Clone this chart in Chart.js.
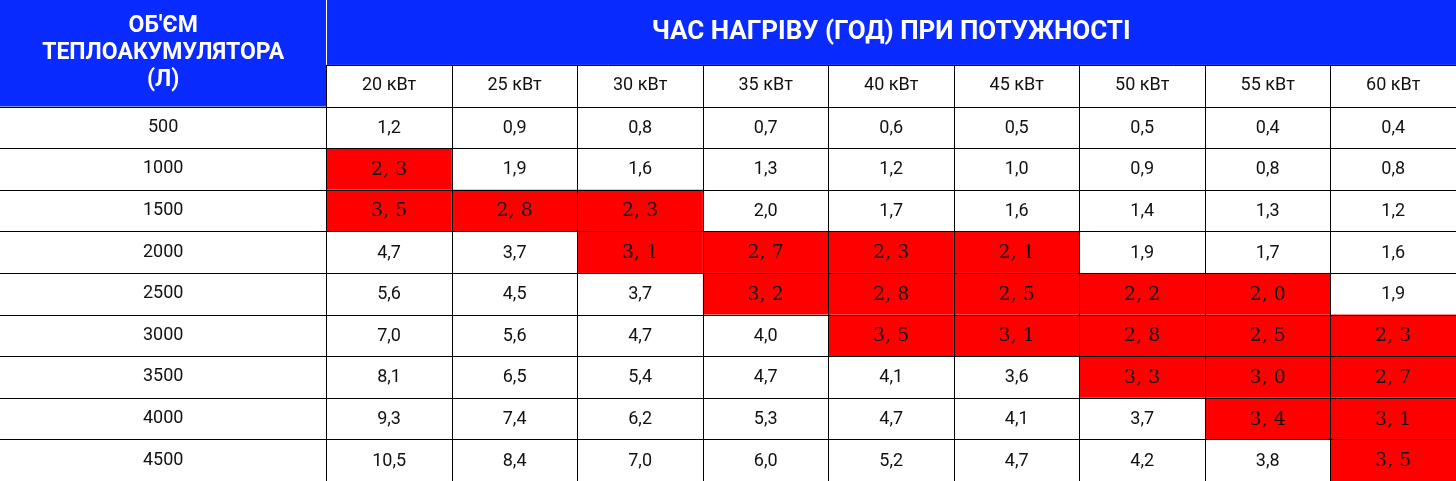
<!DOCTYPE html>
<html><head><meta charset="utf-8">
<script src="https://cdn.jsdelivr.net/npm/chart.js@4.4.1/dist/chart.umd.min.js"></script>
<style>html,body{margin:0;padding:0;background:#fff}canvas{display:block}</style>
</head><body>
<canvas id="c" width="1456" height="481"></canvas>
<script>
// дані таблиці
const powers = ['20 кВт', '25 кВт', '30 кВт', '35 кВт', '40 кВт', '45 кВт', '50 кВт', '55 кВт', '60 кВт']
const volumes = ['500', '1000', '1500', '2000', '2500', '3000', '3500', '4000', '4500']
const hours = [
  [1.2, 0.9, 0.8, 0.7, 0.6, 0.5, 0.5, 0.4, 0.4],
  [2.3, 1.9, 1.6, 1.3, 1.2, 1.0, 0.9, 0.8, 0.8],
  [3.5, 2.8, 2.3, 2.0, 1.7, 1.6, 1.4, 1.3, 1.2],
  [4.7, 3.7, 3.1, 2.7, 2.3, 2.1, 1.9, 1.7, 1.6],
  [5.6, 4.5, 3.7, 3.2, 2.8, 2.5, 2.2, 2.0, 1.9],
  [7.0, 5.6, 4.7, 4.0, 3.5, 3.1, 2.8, 2.5, 2.3],
  [8.1, 6.5, 5.4, 4.7, 4.1, 3.6, 3.3, 3.0, 2.7],
  [9.3, 7.4, 6.2, 5.3, 4.7, 4.1, 3.7, 3.4, 3.1],
  [10.5, 8.4, 7.0, 6.0, 5.2, 4.7, 4.2, 3.8, 3.5],
]
// червоні клітинки: [рядок, стовпець]
const highlighted = [
  [1, 0], [2, 0], [2, 1], [2, 2], [3, 2], [3, 3], [3, 4], [3, 5],
  [4, 3], [4, 4], [4, 5], [4, 6], [4, 7], [5, 4], [5, 5], [5, 6], [5, 7], [5, 8],
  [6, 6], [6, 7], [6, 8], [7, 7], [7, 8], [8, 8],
]
const titleTop = 'ЧАС НАГРІВУ (ГОД) ПРИ ПОТУЖНОСТІ'
const titleLeft = ['ОБ\'ЄМ', 'ТЕПЛОАКУМУЛЯТОРА', '(Л)']

const BLUE = '#0a2bff', RED = '#ff0000'
const LEFT_W = 2.6   // ширина першого стовпця в одиницях шкали
const TOP_H = 1.56   // висота синього заголовка в одиницях рядка
const isHi = (r, c) => highlighted.some(h => h[0] === r && h[1] === c)
const fmt = v => v.toFixed(1).replace('.', ',')

const tablePlugin = {
  id: 'table',
  afterDraw(chart) {
    const { ctx, scales: { x, y } } = chart
    const X = v => x.getPixelForValue(v), Y = v => y.getPixelForValue(v)
    const colL = c => X(LEFT_W + c), colR = c => X(LEFT_W + c + 1)
    const rowT = r => Y(TOP_H + 1 + r), rowB = r => Y(TOP_H + 2 + r)
    ctx.save()
    // сині заголовки
    ctx.fillStyle = BLUE
    ctx.fillRect(X(0), Y(0), X(LEFT_W) - X(0), Y(TOP_H + 1) - Y(0))
    ctx.fillRect(X(LEFT_W), Y(0), X(LEFT_W + powers.length) - X(LEFT_W), Y(TOP_H) - Y(0))
    // клітинки
    hours.forEach((row, r) => row.forEach((v, c) => {
      if (isHi(r, c)) { ctx.fillStyle = RED; ctx.fillRect(colL(c), rowT(r), colR(c) - colL(c), rowB(r) - rowT(r)) }
    }))
    // сітка
    ctx.strokeStyle = '#000'; ctx.lineWidth = 1
    ctx.beginPath()
    for (let r = 0; r <= volumes.length; r++) { const yy = Math.round(Y(TOP_H + 1 + r)) + 0.5; ctx.moveTo(X(0), yy); ctx.lineTo(X(LEFT_W + powers.length), yy) }
    const yh = Math.round(Y(TOP_H)) + 0.5
    ctx.moveTo(X(LEFT_W), yh); ctx.lineTo(X(LEFT_W + powers.length), yh)
    for (let c = 0; c <= powers.length; c++) {
      const xx = Math.round(X(LEFT_W + c)) + 0.5
      ctx.moveTo(xx, c === 0 ? Y(0) : Y(TOP_H)); ctx.lineTo(xx, Y(TOP_H + 1 + volumes.length))
    }
    ctx.stroke()
    ctx.strokeStyle = '#fff'
    ctx.beginPath(); ctx.moveTo(Math.round(X(LEFT_W)) + 0.5, Y(0)); ctx.lineTo(Math.round(X(LEFT_W)) + 0.5, Y(TOP_H)); ctx.stroke()
    // тексти заголовків
    ctx.textAlign = 'center'; ctx.textBaseline = 'middle'; ctx.fillStyle = '#fff'
    ctx.font = 'bold 26px Roboto'
    ctx.fillText(titleTop, (X(LEFT_W) + X(LEFT_W + powers.length)) / 2, Y(TOP_H / 2))
    ctx.font = 'bold 23px Roboto'
    const cy = Y((TOP_H + 1) / 2)
    titleLeft.forEach((s, i) => ctx.fillText(s, X(LEFT_W / 2), cy + (i - 1) * 27))
    ctx.fillStyle = '#111'; ctx.font = '18px Roboto'
    powers.forEach((p, c) => ctx.fillText(p, (colL(c) + colR(c)) / 2, Y(TOP_H + 0.5)))
    volumes.forEach((v, r) => ctx.fillText(v, X(LEFT_W / 2), (rowT(r) + rowB(r)) / 2))
    hours.forEach((row, r) => row.forEach((v, c) => {
      const hi = isHi(r, c)
      ctx.font = hi ? '19px "DejaVu Serif"' : '18px Roboto'
      ctx.fillStyle = hi ? '#111' : '#111'
      ctx.fillText(hi ? fmt(v).replace(',', ', ') : fmt(v), (colL(c) + colR(c)) / 2, (rowT(r) + rowB(r)) / 2 + 1)
    }))
    ctx.restore()
  },
}

new Chart(document.getElementById('c'), {
  type: 'scatter',
  data: { datasets: [{ data: [] }] },
  options: {
    responsive: false, animation: false,
    layout: { padding: 0 },
    plugins: { legend: { display: false }, tooltip: { enabled: false } },
    scales: {
      x: { type: 'linear', min: 0, max: LEFT_W + powers.length, display: false },
      y: { type: 'linear', min: 0, max: TOP_H + 1 + volumes.length, reverse: true, display: false },
    },
  },
  plugins: [tablePlugin],
})
</script>
</body></html>
